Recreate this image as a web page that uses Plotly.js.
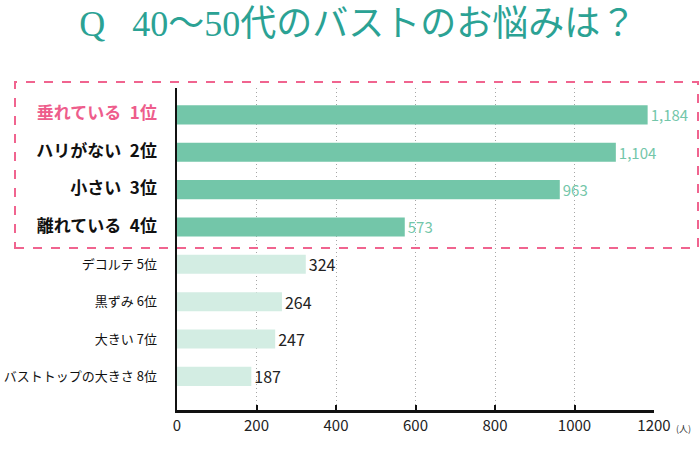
<!DOCTYPE html>
<html>
<head>
<meta charset="utf-8">
<script src="https://cdn.plot.ly/plotly-3.0.1.min.js"></script>
<style>
  body { margin: 0; background: #fff; }
  #chart { width: 700px; height: 452px; }
</style>
</head>
<body>
<div id="chart"></div>
<script>
// ranking data, top to bottom
var categories = ['垂れている', 'ハリがない', '小さい', '離れている', 'デコルテ', '黒ずみ', '大きい', 'バストトップの大きさ'];
var ranks = ['1位', '2位', '3位', '4位', '5位', '6位', '7位', '8位'];
var counts = [1184, 1104, 963, 573, 324, 264, 247, 187];
var valueLabels = ['1,184', '1,104', '963', '573', '324', '264', '247', '187'];
var xTicks = [0, 200, 400, 600, 800, 1000, 1200];

var topN = 4;
var idx = categories.map(function (_, i) { return i; });

var tickText = categories.map(function (c, i) {
    if (i === 0) return '<b><span style="color:#ee5d8c;font-size:17px">' + c + '\u2002' + ranks[i] + '</span></b>';
    if (i < topN) return '<b><span style="font-size:17px">' + c + '\u2002' + ranks[i] + '</span></b>';
    return '<span style="font-size:13px">' + c + ' ' + ranks[i] + '</span>';
});

var bars = {
    type: 'bar',
    orientation: 'h',
    x: counts,
    y: idx,
    text: valueLabels,
    textposition: 'outside',
    constraintext: 'none',
    cliponaxis: false,
    marker: {
        color: idx.map(function (i) { return i < topN ? '#73c6a9' : '#d3ede3'; })
    },
    outsidetextfont: {
        family: 'Noto Sans CJK JP, sans-serif',
        size: idx.map(function (i) { return i < topN ? 15 : 16; }),
        color: idx.map(function (i) { return i < topN ? '#73c6a9' : '#222'; })
    },
    hoverinfo: 'none'
};

var layout = {
    width: 700,
    height: 452,
    margin: {l: 177, r: 46, t: 88, b: 42},
    paper_bgcolor: '#fff',
    plot_bgcolor: '#fff',
    showlegend: false,
    bargap: 0.49,
    font: {family: 'Noto Sans CJK JP, sans-serif', color: '#222'},
    title: {
        text: 'Q\u2002 40～50代のバストのお悩みは？',
        font: {family: 'Liberation Serif, Noto Sans CJK JP, serif', size: 36, color: '#2ba294'},
        xref: 'container', yref: 'container',
        x: 0.511, xanchor: 'center',
        y: 0.948, yanchor: 'middle'
    },
    xaxis: {
        range: [0, 1200],
        tickvals: xTicks,
        ticktext: xTicks.map(String),
        tickfont: {size: 15, color: '#222'},
        ticks: 'inside',
        ticklen: 5,
        tickwidth: 2,
        tickcolor: '#111',
        showline: true,
        linecolor: '#111',
        linewidth: 2.5,
        showgrid: true,
        gridcolor: '#a6a6a6',
        griddash: '1px,3px',
        gridwidth: 1,
        zeroline: false,
        fixedrange: true
    },
    yaxis: {
        range: [7.9, -0.72],
        tickvals: idx,
        ticktext: tickText,
        tickfont: {size: 13, color: '#111'},
        ticks: '',
        ticklabelstandoff: 15,
        showline: true,
        linecolor: '#111',
        linewidth: 2.5,
        showgrid: false,
        zeroline: false,
        fixedrange: true
    },
    shapes: [{
        type: 'rect',
        xref: 'paper', yref: 'paper',
        x0: (15 - 177) / 477, x1: (698 - 177) / 477,
        y0: (410 - 248) / 322, y1: (410 - 82) / 322,
        line: {color: '#f0648f', width: 2, dash: 'dash'},
        layer: 'above'
    }],
    annotations: [{
        text: '(人)',
        xref: 'paper', yref: 'paper',
        x: 1, xshift: 20, xanchor: 'left',
        y: 0, yshift: -18, yanchor: 'middle',
        showarrow: false,
        font: {size: 9, color: '#333'}
    }]
};

Plotly.newPlot('chart', [bars], layout, {displayModeBar: false, staticPlot: true});
</script>
</body>
</html>
